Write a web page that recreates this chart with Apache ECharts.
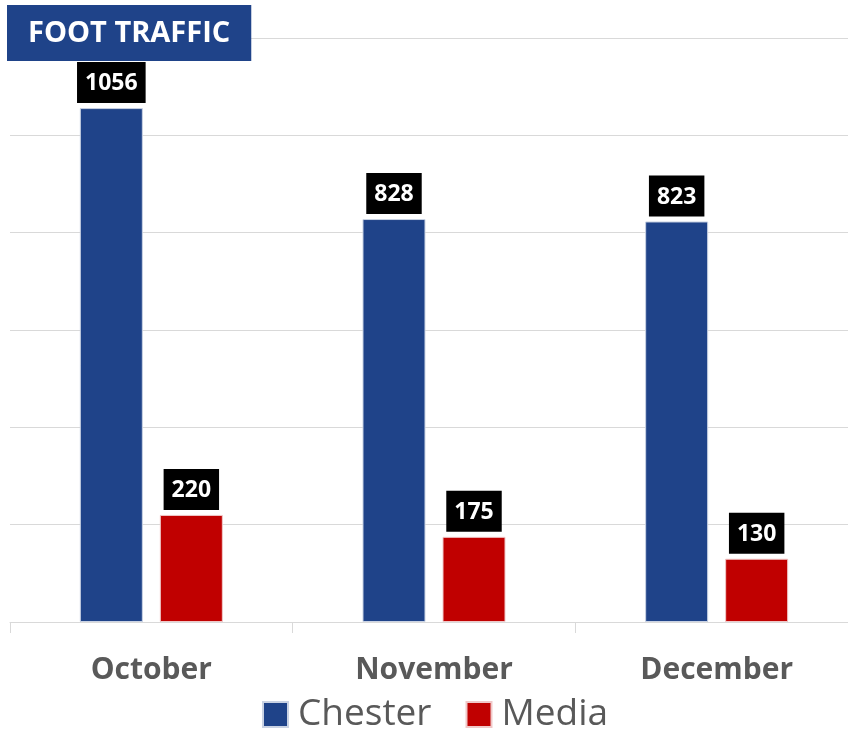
<!DOCTYPE html>
<html>
<head>
<meta charset="utf-8">
<script src="https://cdn.jsdelivr.net/npm/echarts@6/dist/echarts.min.js"></script>
<style>
  html, body { margin: 0; padding: 0; background: #fff; overflow: hidden; }
  /* a bit wider than the window so the last category runs off the right edge */
  #chart { width: 858px; height: 731px; }
</style>
</head>
<body>
<div id="chart"></div>
<script>
const months = ["October", "November", "December"];
const chester = [1056, 828, 823];
const media = [220, 175, 130];

const chart = echarts.init(document.getElementById("chart"));

// label box above each bar
const barLabel = {
  show: true,
  position: "top",
  distance: 5,
  color: "#fff",
  backgroundColor: "#000",
  fontFamily: "Open Sans",
  fontWeight: "bold",
  fontSize: 23,
  padding: [10, 8, 8, 8],
};

chart.setOption({
  animation: false,
  title: {
    text: "FOOT TRAFFIC",
    left: 7,
    top: 5,
    padding: [14, 21, 13, 21],
    backgroundColor: "#1f4389",
    textStyle: {
      color: "#fff",
      fontFamily: "Open Sans",
      fontWeight: "bold",
      fontSize: 29,
    },
  },
  legend: {
    top: 691,
    left: 257,
    itemWidth: 25,
    itemHeight: 25,
    itemGap: 34,
    icon: "rect",
    textStyle: {
      color: "#595959",
      fontFamily: "Open Sans",
      fontSize: 37,
      padding: [0, 0, 0, 5],
    },
    data: ["Chester", "Media"],
  },
  grid: {
    left: 10,
    right: 0,
    top: 38,
    bottom: 109,
  },
  xAxis: {
    type: "category",
    data: months,
    axisLine: { lineStyle: { color: "#d9d9d9", width: 1 } },
    axisTick: { show: true, length: 11, lineStyle: { color: "#d9d9d9" } },
    axisLabel: {
      margin: 33,
      color: "#595959",
      fontFamily: "Open Sans",
      fontWeight: "bold",
      fontSize: 30,
    },
  },
  yAxis: {
    type: "value",
    min: 0,
    max: 1200,
    interval: 200,
    axisLabel: { show: false },
    axisLine: { show: false },
    axisTick: { show: false },
    splitLine: { lineStyle: { color: "#d9d9d9" } },
  },
  series: [
    {
      name: "Chester",
      type: "bar",
      data: chester,
      barWidth: 63,
      barGap: "27%",
      itemStyle: { color: "#1f4389", borderColor: "#c9d2e3", borderWidth: 1 },
      label: barLabel,
    },
    {
      name: "Media",
      type: "bar",
      data: media,
      barWidth: 63,
      itemStyle: { color: "#c00000", borderColor: "#f0c8c8", borderWidth: 1 },
      label: barLabel,
    },
  ],
});
</script>
</body>
</html>
